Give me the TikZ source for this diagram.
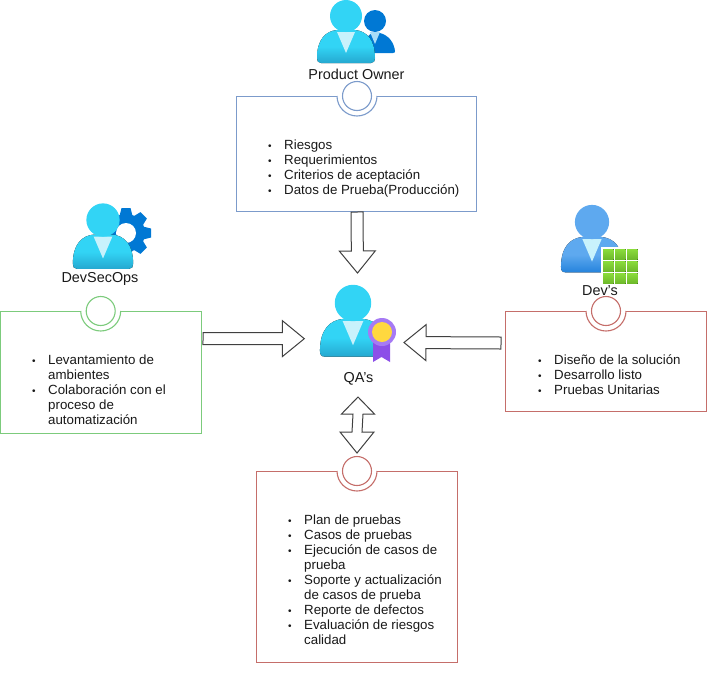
\documentclass[tikz,border=0pt]{standalone}
\usepackage{fontspec}
\setmainfont{Liberation Sans}
\usetikzlibrary{calc}
\definecolor{pblue}{HTML}{7C9BCB}
\definecolor{pgreen}{HTML}{7CCB7C}
\definecolor{pred}{HTML}{C56E6A}
\definecolor{azcyan}{HTML}{32D4F5}
\definecolor{azcyand}{HTML}{25A8D0}
\definecolor{azblue}{HTML}{5EA9EF}
\definecolor{azblued}{HTML}{2583DC}
\definecolor{azdeep}{HTML}{0078D4}
\definecolor{collar}{HTML}{C8F2FC}
\definecolor{gridtop}{HTML}{8BDC3C}
\definecolor{gridbot}{HTML}{6DB82A}
\definecolor{medalring}{HTML}{A67AF4}
\definecolor{medalribbon}{HTML}{8C4FE8}
\definecolor{medalgold}{HTML}{FFD83F}
\newcommand{\bul}{\makebox[5pt][l]{\fontsize{10}{10}\selectfont•}}
\tikzset{
  x=1pt,y=-1pt,
  panelbox/.style={draw=#1,line width=1.1pt,fill=white,inner sep=0pt},
  notchline/.style={draw=#1,line width=1.1pt,fill=white},
  ringc/.style={draw=#1,line width=1.1pt,fill=white},
  listtext/.style={anchor=north west,inner sep=0pt,font=\fontsize{13.3}{15}\selectfont,text=black!90},
  rolelabel/.style={inner sep=0pt,font=\fontsize{14.4}{16}\selectfont,text=black!90},
  blockarrow/.style={draw=black!75,line width=1pt,fill=white,line join=miter}
}
% name, colour, left, top, right, bottom, notch x
\newcommand{\panel}[7]{%
  \node[panelbox=#2,minimum width=#5pt-#3pt,minimum height=#6pt-#4pt,anchor=north west] (#1) at (#3,#4) {};
  \coordinate (#1c) at (#7,#4);
  \fill[white] ($(#1c)+(-20,-1)$) rectangle ($(#1c)+(20,1)$);
  \draw[notchline=#2] ($(#1c)+(-20,0)$) arc[start angle=180,end angle=0,radius=20];
  \node[ringc=#2,circle,minimum size=29pt,inner sep=0pt] (#1r) at (#1c) {};
}
% head x, head y, scale, top colour, bottom colour
\newcommand{\person}[5]{%
  \begin{scope}[shift={(#1,#2)},scale=#3]
    \fill[top color=#4,bottom color=#5,middle color=#4]
      (-29,42) .. controls (-29,23) and (-20,15) .. (-9,14)
      -- (9,14) .. controls (20,15) and (29,23) .. (29,42)
      .. controls (29,45) and (28,47) .. (25,47) -- (-25,47)
      .. controls (-28,47) and (-29,45) .. (-29,42) -- cycle;
    \fill[collar] (-9,16) -- (9,16) -- (0,37) -- cycle;
    \fill[#4] (0,0) circle[radius=16];
  \end{scope}
}
\newcommand{\barrow}[2]{%
  \draw[blockarrow] let \p1=($(#2)-(#1)$),\n1={atan2(\y1,\x1)},\n2={veclen(\x1,\y1)} in
   [shift={(#1)},rotate=\n1]
   (0,-6) -- (\n2-22,-6) -- (\n2-22,-18) -- (\n2,0) -- (\n2-22,18) -- (\n2-22,6) -- (0,6) -- cycle;
}
\begin{document}
\begin{tikzpicture}
\useasboundingbox (0,0) rectangle (708,672);
% role labels
\node[rolelabel] (polabel) at (356.5,74) {Product Owner};
\node[rolelabel] (dslabel) at (100,279) {DevSecOps};
\node[rolelabel] (dvlabel) at (600,291) {Dev's};
\node[rolelabel] (qalabel) at (358.5,379) {QA's};
% panels
\panel{po}{pblue}{236}{96}{476}{211}{357}
\panel{ds}{pgreen}{0}{311}{201}{433}{100.7}
\panel{dv}{pred}{505}{311}{706}{411}{606}
\panel{qb}{pred}{256}{471}{457}{662}{357}
% lists
\node[listtext] (potext) at (268,139) {\begin{tabular}{@{}l@{\hspace{11pt}}l@{}}\bul&Riesgos\\\bul&Requerimientos\\\bul&Criterios de aceptación\\\bul&Datos de Prueba(Producción)\end{tabular}};
\node[listtext] (dstext) at (32,354) {\begin{tabular}{@{}l@{\hspace{11pt}}l@{}}\bul&Levantamiento de\\&ambientes\\\bul&Colaboración con el\\&proceso de\\&automatización\end{tabular}};
\node[listtext] (dvtext) at (538,354) {\begin{tabular}{@{}l@{\hspace{11pt}}l@{}}\bul&Diseño de la solución\\\bul&Desarrollo listo\\\bul&Pruebas Unitarias\end{tabular}};
\node[listtext] (qbtext) at (288,514) {\begin{tabular}{@{}l@{\hspace{11pt}}l@{}}\bul&Plan de pruebas\\\bul&Casos de pruebas\\\bul&Ejecución de casos de\\&prueba\\\bul&Soporte y actualización\\&de casos de prueba\\\bul&Reporte de defectos\\\bul&Evaluación de riesgos\\&calidad\end{tabular}};
% Product Owner icon
\fill[azdeep] (375,21) circle[radius=11];
\fill[azdeep] (363,53) .. controls (364,40) and (368,35) .. (372,33) -- (380,33) .. controls (388,35) and (394,42) .. (395,51) .. controls (395,52) and (395,53) .. (393,53) -- cycle;
\fill[collar!70!azblue] (370,32) -- (380,32) -- (375,44) -- cycle;
\person{346}{16}{1}{azcyan}{azcyand}
% DevSecOps icon
\begin{scope}[shift={(126,233)}]
  \foreach \a in {0,45,...,315}
    \fill[azdeep,rotate=\a] (-4.5,-25) -- (4.5,-25) -- (6.5,-17) -- (-6.5,-17) -- cycle;
  \fill[azdeep] (0,0) circle[radius=19];
  \fill[white] (0,0) circle[radius=10];
\end{scope}
\person{103}{220}{1.04}{azcyan}{azcyand}
% Dev icon
\person{592}{222}{1.07}{azblue}{azblued}
\fill[white] (601,247) rectangle (639,284);
\foreach \i in {0,1,2}
  \foreach \j in {0,1,2}
    \fill[top color=gridtop,bottom color=gridbot]
      (603+\i*12,249+\j*12) rectangle ++(10.5,10.5);
% QA icon
\person{353}{303}{1.14}{azcyan}{azcyand}
\fill[medalribbon] (373,336) -- (390,336) -- (390,362) -- (381.5,357) -- (373,362) -- cycle;
\fill[medalring] (382,332) circle[radius=14];
\fill[medalgold] (382,332) circle[radius=10];
% block arrows
\coordinate (potail) at (357,212);
\coordinate (potip) at (357.5,273);
\coordinate (dstail) at (203,338.5);
\coordinate (dstip) at (304.3,338.7);
\coordinate (dvtail) at (501,343);
\coordinate (dvtip) at (404,342.5);
\coordinate (qtop) at (358,397);
\coordinate (qbot) at (357,453);
\barrow{potail}{potip}
\barrow{dstail}{dstip}
\barrow{dvtail}{dvtip}
\draw[blockarrow] (qtop) -- ($(qtop)+(16.5,17)$) -- ($(qtop)+(5,17)$) -- ($(qbot)+(5,-21)$) -- ($(qbot)+(17,-21)$) -- (qbot) -- ($(qbot)+(-17,-21)$) -- ($(qbot)+(-5,-21)$) -- ($(qtop)+(-5,17)$) -- ($(qtop)+(-16.5,17)$) -- cycle;
\end{tikzpicture}
\end{document}
